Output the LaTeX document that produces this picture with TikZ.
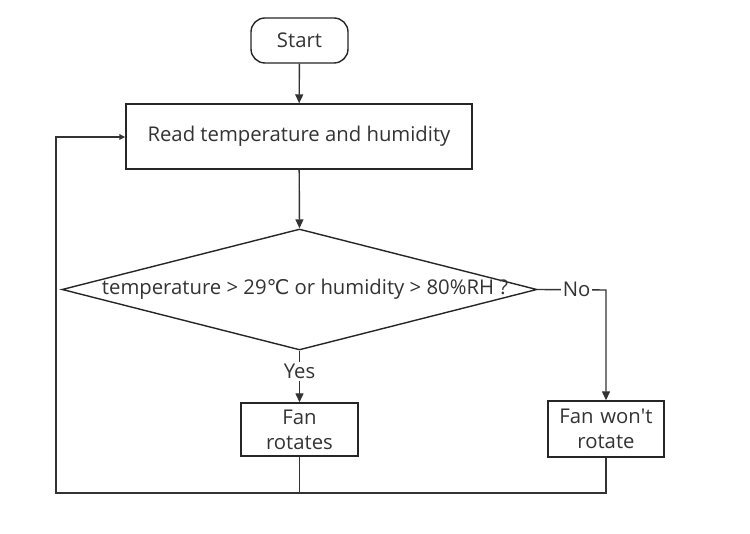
\documentclass[tikz,border=0pt]{standalone}
\usepackage{fontspec}
\setmainfont{Open Sans}
\newfontfamily\symfont{DejaVu Sans}
\usetikzlibrary{arrows.meta,shapes.geometric}
\newcommand{\straightquote}{\XeTeXglyph\XeTeXglyphindex "quotesingle" }
\begin{document}
\begin{tikzpicture}[x=1pt,y=-1pt,
  every node/.style={font=\fontsize{20.3}{25}\selectfont, text=black!80},
  line/.style={draw=black!80, line width=1.4pt},
  arr/.style={line, -{Triangle[length=9pt,width=8pt]}},
  boxnode/.style={draw=black!85, line width=1.4pt, fill=white, align=center, inner sep=0pt}
]
\useasboundingbox (0,0) rectangle (750,534);
\node[boxnode, rounded corners=14pt, minimum width=97pt, minimum height=45pt] (start) at (299.5,40.5) {Start};
\node[boxnode, minimum width=346pt, minimum height=65pt] (read) at (299,136.5) {Read temperature and humidity};
\node[boxnode, diamond, aspect=3.93, minimum width=475pt, minimum height=121pt, inner sep=0pt] (dec) at (299.5,289.5) {};
\node (dectext) at (305,289) {temperature > 29{\symfont ℃} or humidity > 80\%RH ?};
\node[boxnode, minimum width=117pt, minimum height=53pt, text width=110pt] (yes) at (299.5,429.5) {Fan\\rotates};
\node[boxnode, minimum width=116pt, minimum height=56pt, text width=110pt] (no) at (606,429) {Fan won\straightquote t\\rotate};
\coordinate (nocorner) at (606,290);
\coordinate (bl) at (56,493);
\coordinate (tl) at (56,137);
\coordinate (by) at (299.5,493);
\coordinate (bn) at (606,493);
\draw[arr] (start) -- (read);
\draw[arr] (read) -- (dec.north);
\draw[arr] (dec.south) -- node[pos=0.4, fill=white, inner sep=2pt] {Yes} (yes);
\draw[arr] (dec.east) -- node[pos=0.57, fill=white, inner sep=2pt] {No} (nocorner) -- (no);
\draw[line] (no) -- (bn) -- (by);
\draw[line] (yes) -- (by);
\draw[arr, line width=2.2pt, -{Triangle[length=6pt,width=5.5pt]}] (by) -- (bl) -- (tl) -- (read.west |- tl);
\end{tikzpicture}
\end{document}
